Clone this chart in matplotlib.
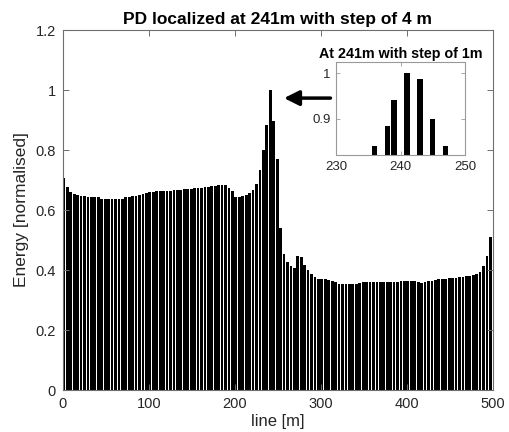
import matplotlib
matplotlib.use("Agg")
import matplotlib.pyplot as plt
import numpy as np

plt.rcParams['font.family'] = ['Liberation Sans', 'DejaVu Sans']

# Main series: 4 m step, positions 1..497 m
positions = np.arange(1, 498, 4)
energy = [
    0.707, 0.677, 0.660, 0.652, 0.649, 0.647, 0.646, 0.645, 0.645, 0.645,
    0.643, 0.637, 0.636, 0.637, 0.637, 0.637, 0.637, 0.636, 0.643, 0.645,
    0.646, 0.647, 0.650, 0.654, 0.657, 0.659, 0.661, 0.662, 0.663, 0.663,
    0.664, 0.665, 0.666, 0.667, 0.668, 0.669, 0.670, 0.671, 0.672, 0.673,
    0.675, 0.676, 0.678, 0.679, 0.681, 0.682, 0.683, 0.683, 0.675, 0.663,
    0.642, 0.642, 0.646, 0.650, 0.656, 0.666, 0.688, 0.733, 0.800, 0.882,
    1.000, 0.898, 0.770, 0.540, 0.455, 0.426, 0.413, 0.408, 0.448, 0.443,
    0.417, 0.399, 0.386, 0.376, 0.371, 0.370, 0.369, 0.366, 0.364, 0.361,
    0.355, 0.352, 0.354, 0.354, 0.352, 0.354, 0.358, 0.360, 0.360, 0.360,
    0.360, 0.360, 0.360, 0.360, 0.360, 0.360, 0.360, 0.360, 0.362, 0.362,
    0.362, 0.362, 0.362, 0.360, 0.358, 0.360, 0.362, 0.363, 0.367, 0.369,
    0.370, 0.371, 0.373, 0.375, 0.375, 0.377, 0.378, 0.380, 0.381, 0.384,
    0.387, 0.395, 0.413, 0.446, 0.509,
]

# Inset series: 1 m step around the peak
inset_pos = [236, 238, 239, 241, 243, 245, 247]
inset_val = [0.841, 0.885, 0.942, 1.000, 0.987, 0.900, 0.840]

xticks = [0, 100, 200, 300, 400, 500]
yticks = [0, 0.2, 0.4, 0.6, 0.8, 1.0, 1.2]
ytick_labels = ['0', '0.2', '0.4', '0.6', '0.8', '1', '1.2']

axis_col = '#6e6e6e'
text_col = '#262626'

fig = plt.figure(figsize=(5.10, 4.32), dpi=100)
ax = fig.add_axes([63/510, 42/432, 430/510, 360/432])
ax.bar(positions, energy, width=3.2, color='black', linewidth=0)
ax.set_xlim(0, 500)
ax.set_ylim(0, 1.2)
ax.set_xticks(xticks)
ax.set_yticks(yticks)
ax.set_yticklabels(ytick_labels)
ax.tick_params(direction='in', length=4, width=0.7, colors=axis_col,
               labelcolor=text_col, labelsize=10.5, top=True, right=True, pad=5)
for s in ax.spines.values():
    s.set_color(axis_col)
    s.set_linewidth(0.8)
ax.set_title('PD localized at 241m with step of 4 m', fontsize=12.5,
             fontweight='bold', color='black', pad=4)
ax.set_xlabel('line [m]', fontsize=12, color=text_col, labelpad=2)
ax.set_ylabel('Energy [normalised]', fontsize=12.5, color=text_col, labelpad=5)

# Arrow pointing at the peak
ax.annotate('', xy=(257, 0.973), xytext=(311, 0.973),
            arrowprops=dict(arrowstyle='-|>,head_length=0.9,head_width=0.45',
                            color='black', lw=2.5, shrinkA=0, shrinkB=0))

# Inset
ins = fig.add_axes([336/510, 277/432, 129/510, 93/432])
ins.bar(inset_pos, inset_val, width=0.85, color='black', linewidth=0)
ins.set_xlim(230, 250)
ins.set_ylim(0.821, 1.025)
ins.set_xticks([230, 240, 250])
ins.set_yticks([0.9, 1.0])
ins.set_yticklabels(['0.9', '1'])
ins.tick_params(direction='in', length=3, width=0.6, colors='#999999',
                labelcolor=text_col, labelsize=9.5, top=True, right=True, pad=4)
for s in ins.spines.values():
    s.set_color('#999999')
    s.set_linewidth(0.8)
ins.set_title('At 241m with step of 1m', fontsize=10.3, fontweight='bold',
              color='black', pad=3)

fig.savefig('out.png', dpi=100)
